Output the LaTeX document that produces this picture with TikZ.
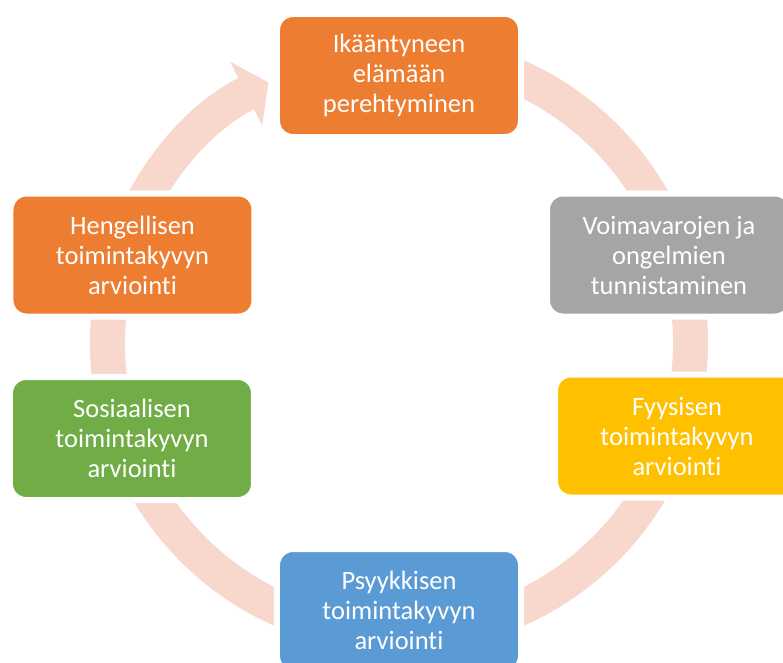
\documentclass[tikz,border=0pt]{standalone}
\usepackage{fontspec}
\setmainfont[Ligatures=NoCommon]{Carlito}
\usepackage{tikz}
\usetikzlibrary{arrows.meta}
\definecolor{ringpink}{RGB}{248,215,205}
\definecolor{accorange}{RGB}{237,125,49}
\definecolor{accgray}{RGB}{165,165,165}
\definecolor{accyellow}{RGB}{255,192,0}
\definecolor{accblue}{RGB}{91,155,213}
\definecolor{accgreen}{RGB}{112,173,71}
\tikzstyle{stage} = [rectangle, rounded corners=16pt, draw=white, line width=6pt, minimum width=244pt, minimum height=123pt, inner sep=0pt, align=center, text=white, font=\fontsize{26.5}{30}\selectfont]
\tikzstyle{ring} = [line width=35pt, draw=ringpink, -{Triangle[length=25pt,width=70pt]}]

\begin{document}
\begin{tikzpicture}[x=1pt,y=1pt]
\useasboundingbox (-399,-319) rectangle (384,343);

\draw [ring] (80:291.5) arc [start angle=80, end angle=-243.4, radius=291.5];

\node [stage, fill=accorange] (a) at (0,267.5) {Ikääntyneen\\elämään\\perehtyminen};
\node [stage, fill=accgray] (b) at (270,88) {Voimavarojen ja\\ongelmien\\tunnistaminen};
\node [stage, fill=accyellow] (c) at (278,-93) {Fyysisen\\toimintakyvyn\\arviointi};
\node [stage, fill=accblue] (d) at (0,-267.5) {Psyykkisen\\toimintakyvyn\\arviointi};
\node [stage, fill=accgreen] (e) at (-267,-95.5) {Sosiaalisen\\toimintakyvyn\\arviointi};
\node [stage, fill=accorange] (f) at (-266.5,88) {Hengellisen\\toimintakyvyn\\arviointi};
\end{tikzpicture}
\end{document}
